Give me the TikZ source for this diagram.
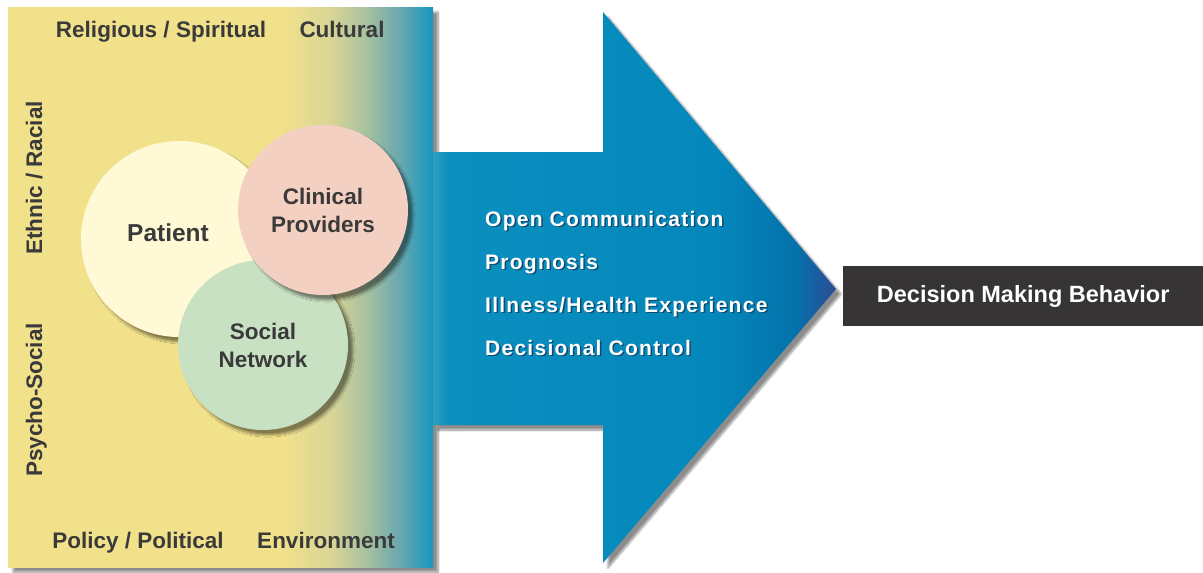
\documentclass[tikz,border=0pt]{standalone}
\usepackage{fontspec}
\setmainfont{Liberation Sans}
\newfontfamily\widefont[LetterSpace=6]{Liberation Sans}
\usetikzlibrary{shadows.blur}

\definecolor{labelgray}{HTML}{3A3A3A}
\definecolor{panelyellow}{HTML}{F2E18B}
\definecolor{panelolive}{HTML}{D9D596}
\definecolor{panelsage}{HTML}{A9C29F}
\definecolor{panelteal}{HTML}{6BA8AE}
\definecolor{panelblue}{HTML}{1497BF}
\definecolor{arrowlight}{HTML}{2EA0BD}
\definecolor{arrowblue}{HTML}{0A8FBF}
\definecolor{arrowmid}{HTML}{0488BB}
\definecolor{arrowdeep}{HTML}{0472AA}
\definecolor{arrowtip}{HTML}{2E4B96}
\definecolor{itemshadow}{HTML}{0E4A70}
\definecolor{patientcream}{HTML}{FFFAD5}
\definecolor{clinicalpink}{HTML}{F3D0C1}
\definecolor{socialgreen}{HTML}{C9E1C3}
\definecolor{boxgray}{HTML}{363435}

\pgfdeclarehorizontalshading{panelshade}{100bp}{color(0bp)=(panelyellow); color(25bp)=(panelyellow); color(57bp)=(panelyellow); color(63bp)=(panelolive); color(67bp)=(panelsage); color(71bp)=(panelteal); color(75bp)=(panelblue); color(100bp)=(panelblue)}
\pgfdeclarehorizontalshading{arrowshade}{100bp}{color(0bp)=(arrowlight); color(25bp)=(arrowlight); color(27bp)=(arrowblue); color(60bp)=(arrowmid); color(70bp)=(arrowdeep); color(75bp)=(arrowtip); color(100bp)=(arrowtip)}

\newcommand\dropped[1]{\rlap{\kern1.5pt\raisebox{-1.5pt}{\color{itemshadow}#1}}#1}

\tikzset{
  softshadow/.style={blur shadow={shadow xshift=5pt, shadow yshift=-5pt, shadow opacity=45, shadow blur steps=8}},
  ring/.style={circle, inner sep=0pt, softshadow, text=labelgray, align=center,
    font=\fontsize{22.5}{28}\selectfont\bfseries},
  factor/.style={text=labelgray, anchor=base, inner sep=0pt,
    font=\fontsize{22.5}{28}\selectfont\bfseries},
  item/.style={text=white, anchor=base west, inner sep=0pt,
    font=\widefont\bfseries\fontsize{21}{21}\selectfont},
}

\begin{document}
\begin{tikzpicture}[x=1pt,y=-1pt]
  \useasboundingbox (0,0) rectangle (1203,573);
  % context panel
  \path [shading=panelshade, softshadow] (8,7) rectangle (433,567);
  % big arrow
  \path [shading=arrowshade, softshadow] (433,152) -- (603,152) -- (603,12) -- (836,289)
    -- (603,563) -- (603,425) -- (433,425) -- cycle;
  % circles
  \node [ring, fill=patientcream, minimum size=196pt] (patient) at (179,239) {};
  \node [factor, font=\fontsize{24.5}{28}\selectfont\bfseries] (patientname) at (168,241) {Patient};
  \node [ring, fill=socialgreen, minimum size=170pt] (social) at (263,345) {Social\\Network};
  \node [ring, fill=clinicalpink, minimum size=170pt] (clinical) at (323,210) {Clinical\\Providers};
  % context labels
  \node [factor] (religious) at (161,37) {Religious / Spiritual};
  \node [factor] (cultural) at (342,37) {Cultural};
  \node [factor] (policy) at (138,548) {Policy / Political};
  \node [factor] (environment) at (326,548) {Environment};
  \node [factor, rotate=90] (ethnic) at (42,178) {Ethnic / Racial};
  \node [factor, rotate=90] (psycho) at (42,400) {Psycho-Social};
  % arrow items
  \node [item] (open) at (485,226) {\dropped{Open Communication}};
  \node [item] (prognosis) at (485,269) {\dropped{Prognosis}};
  \node [item] (illness) at (485,312) {\dropped{Illness/Health Experience}};
  \node [item] (control) at (485,355) {\dropped{Decisional Control}};
  % outcome
  \node [fill=boxgray, text=white, anchor=north west, minimum width=360pt, minimum height=60pt,
    inner sep=0pt, font=\fontsize{23.5}{28}\selectfont\bfseries] (decision) at (843,266) {Decision Making Behavior};
\end{tikzpicture}
\end{document}
